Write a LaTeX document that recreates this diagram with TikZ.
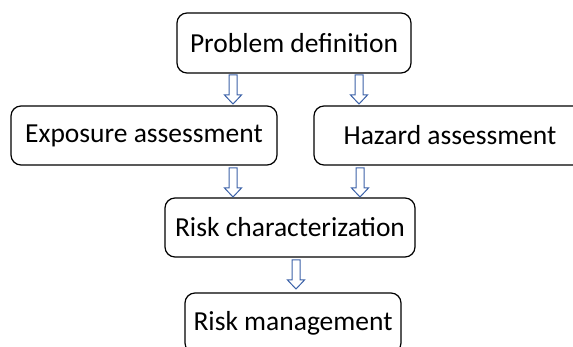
\documentclass[tikz,border=0pt]{standalone}
\usepackage{fontspec}
\setmainfont{Carlito}
\definecolor{arrowblue}{RGB}{60,98,168}
\tikzset{
  box/.style={draw=black, line width=1.2pt, rounded corners=10pt, fill=white,
    inner sep=0pt, font=\fontsize{27.5}{33}\selectfont},
  blockarrow/.pic={
    \draw[arrowblue, line width=1pt, fill=white, line join=miter]
      (-4,0) -- (4,0) -- (4,20) -- (8.5,20) -- (0,29) -- (-8.5,20) -- (-4,20) -- cycle;
  }
}
\begin{document}
\begin{tikzpicture}[x=1pt,y=-1pt]
\useasboundingbox (0,0) rectangle (573,347);
\clip (0,0) rectangle (573,347);
\node[box, minimum width=234pt, minimum height=60pt] (pd) at (294,43) {Problem definition};
\node[box, minimum width=266pt, minimum height=59pt] (ea) at (144,135.5) {Exposure assessment};
\node[box, minimum width=272pt, minimum height=59pt] (ha) at (450,135.5) {Hazard assessment};
\node[box, minimum width=250pt, minimum height=59pt] (rc) at (290,227.5) {Risk characterization};
\node[box, minimum width=216pt, minimum height=60pt] (rm) at (293,323) {Risk management};
\pic at (233,75) {blockarrow};
\pic at (359,75) {blockarrow};
\pic at (233,168) {blockarrow};
\pic at (360,168) {blockarrow};
\pic at (296,260) {blockarrow};
\end{tikzpicture}
\end{document}
